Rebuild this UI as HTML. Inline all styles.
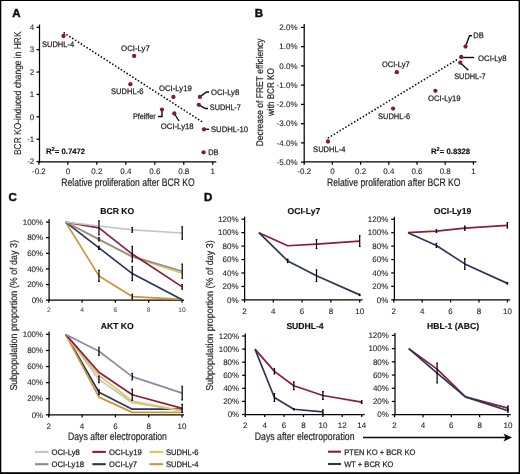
<!DOCTYPE html><html><head><meta charset="utf-8"><style>html,body{margin:0;padding:0;background:#fff;}svg{display:block;text-rendering:geometricPrecision;font-family:"Liberation Sans",sans-serif;}</style></head><body>
<svg width="520" height="474" viewBox="0 0 520 474">
<defs><filter id="b" x="-5%" y="-5%" width="110%" height="110%"><feGaussianBlur stdDeviation="0.35"/></filter></defs>
<rect x="0" y="0" width="520" height="474" fill="#fff"/>
<g filter="url(#b)">
<text x="12.3" y="17.2" font-size="11.5" text-anchor="start" font-weight="bold" fill="#111" stroke="#111" stroke-width="0.45" >A</text>
<line x1="39.5" y1="24.5" x2="39.5" y2="162.5" stroke="#000" stroke-width="1.25" />
<line x1="36.5" y1="27.3" x2="39.5" y2="27.3" stroke="#000" stroke-width="1.25" />
<text x="34.3" y="30.0" font-size="8.0" text-anchor="end" font-weight="normal" fill="#262626" stroke="#262626" stroke-width="0.1" >4</text>
<line x1="36.5" y1="49.68" x2="39.5" y2="49.68" stroke="#000" stroke-width="1.25" />
<text x="34.3" y="52.38" font-size="8.0" text-anchor="end" font-weight="normal" fill="#262626" stroke="#262626" stroke-width="0.1" >3</text>
<line x1="36.5" y1="72.06" x2="39.5" y2="72.06" stroke="#000" stroke-width="1.25" />
<text x="34.3" y="74.76" font-size="8.0" text-anchor="end" font-weight="normal" fill="#262626" stroke="#262626" stroke-width="0.1" >2</text>
<line x1="36.5" y1="94.44" x2="39.5" y2="94.44" stroke="#000" stroke-width="1.25" />
<text x="34.3" y="97.14" font-size="8.0" text-anchor="end" font-weight="normal" fill="#262626" stroke="#262626" stroke-width="0.1" >1</text>
<line x1="36.5" y1="116.82" x2="39.5" y2="116.82" stroke="#000" stroke-width="1.25" />
<text x="34.3" y="119.52" font-size="8.0" text-anchor="end" font-weight="normal" fill="#262626" stroke="#262626" stroke-width="0.1" >0</text>
<line x1="36.5" y1="139.2" x2="39.5" y2="139.2" stroke="#000" stroke-width="1.25" />
<text x="34.3" y="141.89999999999998" font-size="8.0" text-anchor="end" font-weight="normal" fill="#262626" stroke="#262626" stroke-width="0.1" >-1</text>
<line x1="36.5" y1="161.58" x2="39.5" y2="161.58" stroke="#000" stroke-width="1.25" />
<text x="34.3" y="164.28" font-size="8.0" text-anchor="end" font-weight="normal" fill="#262626" stroke="#262626" stroke-width="0.1" >-2</text>
<line x1="38.9" y1="161.9" x2="216.3" y2="161.9" stroke="#000" stroke-width="1.25" />
<line x1="38.9" y1="161.9" x2="38.9" y2="164.7" stroke="#000" stroke-width="1.25" />
<text x="38.9" y="173.6" font-size="8.0" text-anchor="middle" font-weight="normal" fill="#262626" stroke="#262626" stroke-width="0.1" >-0.2</text>
<line x1="67.87" y1="161.9" x2="67.87" y2="164.7" stroke="#000" stroke-width="1.25" />
<text x="67.87" y="173.6" font-size="8.0" text-anchor="middle" font-weight="normal" fill="#262626" stroke="#262626" stroke-width="0.1" >0</text>
<line x1="96.84" y1="161.9" x2="96.84" y2="164.7" stroke="#000" stroke-width="1.25" />
<text x="96.84" y="173.6" font-size="8.0" text-anchor="middle" font-weight="normal" fill="#262626" stroke="#262626" stroke-width="0.1" >0.2</text>
<line x1="125.81" y1="161.9" x2="125.81" y2="164.7" stroke="#000" stroke-width="1.25" />
<text x="125.81" y="173.6" font-size="8.0" text-anchor="middle" font-weight="normal" fill="#262626" stroke="#262626" stroke-width="0.1" >0.4</text>
<line x1="154.78" y1="161.9" x2="154.78" y2="164.7" stroke="#000" stroke-width="1.25" />
<text x="154.78" y="173.6" font-size="8.0" text-anchor="middle" font-weight="normal" fill="#262626" stroke="#262626" stroke-width="0.1" >0.6</text>
<line x1="183.75" y1="161.9" x2="183.75" y2="164.7" stroke="#000" stroke-width="1.25" />
<text x="183.75" y="173.6" font-size="8.0" text-anchor="middle" font-weight="normal" fill="#262626" stroke="#262626" stroke-width="0.1" >0.8</text>
<line x1="212.72" y1="161.9" x2="212.72" y2="164.7" stroke="#000" stroke-width="1.25" />
<text x="212.72" y="173.6" font-size="8.0" text-anchor="middle" font-weight="normal" fill="#262626" stroke="#262626" stroke-width="0.1" >1</text>
<text x="61.3" y="185.5" font-size="10.9" text-anchor="start" font-weight="normal" fill="#262626" stroke="#262626" stroke-width="0.2" textLength="133.5" lengthAdjust="spacingAndGlyphs" >Relative proliferation after BCR KO</text>
<g transform="translate(21.2,155.0) rotate(-90)">
<text x="0" y="0" font-size="10.0" text-anchor="start" font-weight="normal" fill="#262626" stroke="#262626" stroke-width="0.15" textLength="123.5" lengthAdjust="spacingAndGlyphs" >BCR KO-induced change in HRK</text>
</g>
<line x1="64.2" y1="33.0" x2="202.8" y2="122.2" stroke="#111" stroke-width="1.75" stroke-dasharray="0.05 3.35" stroke-linecap="round"/>
<g fill="none" stroke="#111" stroke-width="1.4">
<polyline points="199.9,96.9 206.5,92 209,92"/>
<polyline points="198.8,104.8 205.5,108.5 208,108.5"/>
<polyline points="162,109.6 162,116.5 158,116.5"/>
<polyline points="174.3,113.5 179,121"/>
<polyline points="204,129.3 209,129.3"/>
</g>
<circle cx="63.5" cy="36" r="2.15" fill="#8a1536"/>
<circle cx="134.1" cy="56" r="2.15" fill="#8a1536"/>
<circle cx="130.4" cy="84.2" r="2.15" fill="#8a1536"/>
<circle cx="173.4" cy="97" r="2.15" fill="#8a1536"/>
<circle cx="199.9" cy="96.9" r="2.15" fill="#8a1536"/>
<circle cx="198.8" cy="104.8" r="2.15" fill="#8a1536"/>
<circle cx="162" cy="109.6" r="2.15" fill="#8a1536"/>
<circle cx="174.3" cy="113.5" r="2.15" fill="#8a1536"/>
<circle cx="204" cy="129.3" r="2.15" fill="#8a1536"/>
<circle cx="203.6" cy="152.3" r="2.15" fill="#8a1536"/>
<text x="41.9" y="46.5" font-size="8.0" text-anchor="start" font-weight="normal" fill="#262626" stroke="#262626" stroke-width="0.25" textLength="32.3" lengthAdjust="spacingAndGlyphs" >SUDHL-4</text>
<text x="121.1" y="51.4" font-size="8.0" text-anchor="start" font-weight="normal" fill="#262626" stroke="#262626" stroke-width="0.25" textLength="28.7" lengthAdjust="spacingAndGlyphs" >OCI-Ly7</text>
<text x="111" y="94.39999999999999" font-size="8.0" text-anchor="start" font-weight="normal" fill="#262626" stroke="#262626" stroke-width="0.25" textLength="32.5" lengthAdjust="spacingAndGlyphs" >SUDHL-6</text>
<text x="159.1" y="91.0" font-size="8.0" text-anchor="start" font-weight="normal" fill="#262626" stroke="#262626" stroke-width="0.25" textLength="32.6" lengthAdjust="spacingAndGlyphs" >OCI-Ly19</text>
<text x="211" y="94.69999999999999" font-size="8.0" text-anchor="start" font-weight="normal" fill="#262626" stroke="#262626" stroke-width="0.25" textLength="28.2" lengthAdjust="spacingAndGlyphs" >OCI-Ly8</text>
<text x="209.8" y="110.39999999999999" font-size="8.0" text-anchor="start" font-weight="normal" fill="#262626" stroke="#262626" stroke-width="0.25" textLength="31.1" lengthAdjust="spacingAndGlyphs" >SUDHL-7</text>
<text x="132.9" y="118.89999999999999" font-size="8.0" text-anchor="start" font-weight="normal" fill="#262626" stroke="#262626" stroke-width="0.25" textLength="22.8" lengthAdjust="spacingAndGlyphs" >Pfeiffer</text>
<text x="160.8" y="129.1" font-size="8.0" text-anchor="start" font-weight="normal" fill="#262626" stroke="#262626" stroke-width="0.25" textLength="32.8" lengthAdjust="spacingAndGlyphs" >OCI-Ly18</text>
<text x="211" y="131.5" font-size="8.0" text-anchor="start" font-weight="normal" fill="#262626" stroke="#262626" stroke-width="0.25" textLength="37.1" lengthAdjust="spacingAndGlyphs" >SUDHL-10</text>
<text x="208.2" y="155.4" font-size="8.0" text-anchor="start" font-weight="normal" fill="#262626" stroke="#262626" stroke-width="0.25" textLength="10.4" lengthAdjust="spacingAndGlyphs" >DB</text>
<text x="46" y="154.0" font-size="7.75" text-anchor="start" font-weight="bold" fill="#111" stroke="#111" stroke-width="0.15" >R<tspan font-size="5.6" dy="-3.2">2</tspan><tspan dy="3.2">= 0.7472</tspan></text>
<text x="254.8" y="17.2" font-size="11.5" text-anchor="start" font-weight="bold" fill="#111" stroke="#111" stroke-width="0.45" >B</text>
<line x1="304.2" y1="24.0" x2="304.2" y2="162.5" stroke="#000" stroke-width="1.25" />
<line x1="301.0" y1="27.4" x2="304.2" y2="27.4" stroke="#000" stroke-width="1.25" />
<text x="297.5" y="30.099999999999998" font-size="8.0" text-anchor="end" font-weight="normal" fill="#262626" stroke="#262626" stroke-width="0.1" >2.0%</text>
<line x1="301.0" y1="46.65" x2="304.2" y2="46.65" stroke="#000" stroke-width="1.25" />
<text x="297.5" y="49.35" font-size="8.0" text-anchor="end" font-weight="normal" fill="#262626" stroke="#262626" stroke-width="0.1" >1.0%</text>
<line x1="301.0" y1="65.9" x2="304.2" y2="65.9" stroke="#000" stroke-width="1.25" />
<text x="297.5" y="68.60000000000001" font-size="8.0" text-anchor="end" font-weight="normal" fill="#262626" stroke="#262626" stroke-width="0.1" >0.0%</text>
<line x1="301.0" y1="85.15" x2="304.2" y2="85.15" stroke="#000" stroke-width="1.25" />
<text x="297.5" y="87.85000000000001" font-size="8.0" text-anchor="end" font-weight="normal" fill="#262626" stroke="#262626" stroke-width="0.1" >-1.0%</text>
<line x1="301.0" y1="104.4" x2="304.2" y2="104.4" stroke="#000" stroke-width="1.25" />
<text x="297.5" y="107.10000000000001" font-size="8.0" text-anchor="end" font-weight="normal" fill="#262626" stroke="#262626" stroke-width="0.1" >-2.0%</text>
<line x1="301.0" y1="123.65" x2="304.2" y2="123.65" stroke="#000" stroke-width="1.25" />
<text x="297.5" y="126.35000000000001" font-size="8.0" text-anchor="end" font-weight="normal" fill="#262626" stroke="#262626" stroke-width="0.1" >-3.0%</text>
<line x1="301.0" y1="142.9" x2="304.2" y2="142.9" stroke="#000" stroke-width="1.25" />
<text x="297.5" y="145.6" font-size="8.0" text-anchor="end" font-weight="normal" fill="#262626" stroke="#262626" stroke-width="0.1" >-4.0%</text>
<line x1="301.0" y1="162.15" x2="304.2" y2="162.15" stroke="#000" stroke-width="1.25" />
<text x="297.5" y="164.85" font-size="8.0" text-anchor="end" font-weight="normal" fill="#262626" stroke="#262626" stroke-width="0.1" >-5.0%</text>
<line x1="303.59999999999997" y1="161.9" x2="476.4" y2="161.9" stroke="#000" stroke-width="1.25" />
<line x1="304.2" y1="161.9" x2="304.2" y2="164.7" stroke="#000" stroke-width="1.25" />
<text x="304.2" y="173.6" font-size="8.0" text-anchor="middle" font-weight="normal" fill="#262626" stroke="#262626" stroke-width="0.1" >-0.2</text>
<line x1="332.4" y1="161.9" x2="332.4" y2="164.7" stroke="#000" stroke-width="1.25" />
<text x="332.4" y="173.6" font-size="8.0" text-anchor="middle" font-weight="normal" fill="#262626" stroke="#262626" stroke-width="0.1" >0</text>
<line x1="360.59999999999997" y1="161.9" x2="360.59999999999997" y2="164.7" stroke="#000" stroke-width="1.25" />
<text x="360.59999999999997" y="173.6" font-size="8.0" text-anchor="middle" font-weight="normal" fill="#262626" stroke="#262626" stroke-width="0.1" >0.2</text>
<line x1="388.79999999999995" y1="161.9" x2="388.79999999999995" y2="164.7" stroke="#000" stroke-width="1.25" />
<text x="388.79999999999995" y="173.6" font-size="8.0" text-anchor="middle" font-weight="normal" fill="#262626" stroke="#262626" stroke-width="0.1" >0.4</text>
<line x1="417.0" y1="161.9" x2="417.0" y2="164.7" stroke="#000" stroke-width="1.25" />
<text x="417.0" y="173.6" font-size="8.0" text-anchor="middle" font-weight="normal" fill="#262626" stroke="#262626" stroke-width="0.1" >0.6</text>
<line x1="445.2" y1="161.9" x2="445.2" y2="164.7" stroke="#000" stroke-width="1.25" />
<text x="445.2" y="173.6" font-size="8.0" text-anchor="middle" font-weight="normal" fill="#262626" stroke="#262626" stroke-width="0.1" >0.8</text>
<line x1="473.4" y1="161.9" x2="473.4" y2="164.7" stroke="#000" stroke-width="1.25" />
<text x="473.4" y="173.6" font-size="8.0" text-anchor="middle" font-weight="normal" fill="#262626" stroke="#262626" stroke-width="0.1" >1</text>
<text x="327.0" y="185.5" font-size="10.9" text-anchor="start" font-weight="normal" fill="#262626" stroke="#262626" stroke-width="0.2" textLength="133.5" lengthAdjust="spacingAndGlyphs" >Relative proliferation after BCR KO</text>
<g transform="translate(263.3,146.3) rotate(-90)">
<text x="0" y="0" font-size="9.7" text-anchor="start" font-weight="normal" fill="#262626" stroke="#262626" stroke-width="0.2" textLength="107.7" lengthAdjust="spacingAndGlyphs" >Decrease of FRET efficiency</text>
</g>
<g transform="translate(273.8,116.0) rotate(-90)">
<text x="0" y="0" font-size="9.7" text-anchor="start" font-weight="normal" fill="#262626" stroke="#262626" stroke-width="0.2" textLength="47.8" lengthAdjust="spacingAndGlyphs" >with BCR KO</text>
</g>
<line x1="328.5" y1="137.7" x2="458.6" y2="58.7" stroke="#111" stroke-width="1.75" stroke-dasharray="0.05 3.35" stroke-linecap="round"/>
<g fill="none" stroke="#111" stroke-width="1.4">
<polyline points="465.5,46.6 469.5,35.7 472,35.7"/>
<polyline points="461.2,57.5 474.1,57.5"/>
<polyline points="460.3,62.7 468.4,70.3"/>
</g>
<circle cx="328" cy="141.5" r="2.15" fill="#8a1536"/>
<circle cx="393.1" cy="108.6" r="2.15" fill="#8a1536"/>
<circle cx="396.8" cy="72.2" r="2.15" fill="#8a1536"/>
<circle cx="435.4" cy="90.8" r="2.15" fill="#8a1536"/>
<circle cx="465.5" cy="46.6" r="2.15" fill="#8a1536"/>
<circle cx="461.2" cy="57" r="2.15" fill="#8a1536"/>
<circle cx="460.3" cy="62.7" r="2.15" fill="#8a1536"/>
<text x="313.1" y="151.79999999999998" font-size="8.0" text-anchor="start" font-weight="normal" fill="#262626" stroke="#262626" stroke-width="0.25" textLength="32.3" lengthAdjust="spacingAndGlyphs" >SUDHL-4</text>
<text x="378" y="118.69999999999999" font-size="8.0" text-anchor="start" font-weight="normal" fill="#262626" stroke="#262626" stroke-width="0.25" textLength="32.1" lengthAdjust="spacingAndGlyphs" >SUDHL-6</text>
<text x="382" y="66.8" font-size="8.0" text-anchor="start" font-weight="normal" fill="#262626" stroke="#262626" stroke-width="0.25" textLength="27.7" lengthAdjust="spacingAndGlyphs" >OCI-Ly7</text>
<text x="428" y="100.5" font-size="8.0" text-anchor="start" font-weight="normal" fill="#262626" stroke="#262626" stroke-width="0.25" textLength="32.6" lengthAdjust="spacingAndGlyphs" >OCI-Ly19</text>
<text x="473.3" y="37.5" font-size="8.0" text-anchor="start" font-weight="normal" fill="#262626" stroke="#262626" stroke-width="0.25" textLength="10.4" lengthAdjust="spacingAndGlyphs" >DB</text>
<text x="478.1" y="60.5" font-size="8.0" text-anchor="start" font-weight="normal" fill="#262626" stroke="#262626" stroke-width="0.25" textLength="28.4" lengthAdjust="spacingAndGlyphs" >OCI-Ly8</text>
<text x="454.2" y="78.69999999999999" font-size="8.0" text-anchor="start" font-weight="normal" fill="#262626" stroke="#262626" stroke-width="0.25" textLength="31.5" lengthAdjust="spacingAndGlyphs" >SUDHL-7</text>
<text x="431" y="154.0" font-size="7.75" text-anchor="start" font-weight="bold" fill="#111" stroke="#111" stroke-width="0.15" >R<tspan font-size="5.6" dy="-3.2">2</tspan><tspan dy="3.2">= 0.8328</tspan></text>
<text x="8.6" y="201.3" font-size="11.5" text-anchor="start" font-weight="bold" fill="#111" stroke="#111" stroke-width="0.45" >C</text>
<g transform="translate(17.2,390.6) rotate(-90)">
<text x="0" y="0" font-size="10.0" text-anchor="start" font-weight="normal" fill="#262626" stroke="#262626" stroke-width="0.15" textLength="150.5" lengthAdjust="spacingAndGlyphs" >Subpopulation proportion (% of day 3)</text>
</g>
<line x1="49.1" y1="219.1" x2="49.1" y2="300.70000000000005" stroke="#000" stroke-width="1.25" />
<line x1="45.9" y1="300.1" x2="49.1" y2="300.1" stroke="#000" stroke-width="1.25" />
<text x="43.2" y="302.8" font-size="8.0" text-anchor="end" font-weight="normal" fill="#262626" stroke="#262626" stroke-width="0.1" >0%</text>
<line x1="45.9" y1="284.5" x2="49.1" y2="284.5" stroke="#000" stroke-width="1.25" />
<text x="43.2" y="287.2" font-size="8.0" text-anchor="end" font-weight="normal" fill="#262626" stroke="#262626" stroke-width="0.1" >20%</text>
<line x1="45.9" y1="268.90000000000003" x2="49.1" y2="268.90000000000003" stroke="#000" stroke-width="1.25" />
<text x="43.2" y="271.6" font-size="8.0" text-anchor="end" font-weight="normal" fill="#262626" stroke="#262626" stroke-width="0.1" >40%</text>
<line x1="45.9" y1="253.3" x2="49.1" y2="253.3" stroke="#000" stroke-width="1.25" />
<text x="43.2" y="256.0" font-size="8.0" text-anchor="end" font-weight="normal" fill="#262626" stroke="#262626" stroke-width="0.1" >60%</text>
<line x1="45.9" y1="237.7" x2="49.1" y2="237.7" stroke="#000" stroke-width="1.25" />
<text x="43.2" y="240.39999999999998" font-size="8.0" text-anchor="end" font-weight="normal" fill="#262626" stroke="#262626" stroke-width="0.1" >80%</text>
<line x1="45.9" y1="222.1" x2="49.1" y2="222.1" stroke="#000" stroke-width="1.25" />
<text x="43.2" y="224.79999999999998" font-size="8.0" text-anchor="end" font-weight="normal" fill="#262626" stroke="#262626" stroke-width="0.1" >100%</text>
<line x1="48.5" y1="300.1" x2="184.0" y2="300.1" stroke="#000" stroke-width="1.25" />
<line x1="48.8" y1="300.1" x2="48.8" y2="302.70000000000005" stroke="#000" stroke-width="1.25" />
<text x="48.8" y="311.70000000000005" font-size="6.6" text-anchor="middle" font-weight="normal" fill="#555" stroke="#555" stroke-width="0.1" >2</text>
<line x1="82.1" y1="300.1" x2="82.1" y2="302.70000000000005" stroke="#000" stroke-width="1.25" />
<text x="82.1" y="311.70000000000005" font-size="6.6" text-anchor="middle" font-weight="normal" fill="#555" stroke="#555" stroke-width="0.1" >4</text>
<line x1="115.39999999999999" y1="300.1" x2="115.39999999999999" y2="302.70000000000005" stroke="#000" stroke-width="1.25" />
<text x="115.39999999999999" y="311.70000000000005" font-size="6.6" text-anchor="middle" font-weight="normal" fill="#555" stroke="#555" stroke-width="0.1" >6</text>
<line x1="148.7" y1="300.1" x2="148.7" y2="302.70000000000005" stroke="#000" stroke-width="1.25" />
<text x="148.7" y="311.70000000000005" font-size="6.6" text-anchor="middle" font-weight="normal" fill="#555" stroke="#555" stroke-width="0.1" >8</text>
<line x1="182.0" y1="300.1" x2="182.0" y2="302.70000000000005" stroke="#000" stroke-width="1.25" />
<text x="182.0" y="311.70000000000005" font-size="6.6" text-anchor="middle" font-weight="normal" fill="#555" stroke="#555" stroke-width="0.1" >10</text>
<text x="117.3" y="214.3" font-size="8.6" text-anchor="middle" font-weight="bold" fill="#111" stroke="#111" stroke-width="0.15" >BCR KO</text>
<polyline points="65.65,222.10 98.95,239.81 132.25,256.97 182.20,273.19" fill="none" stroke="#e2c255" stroke-width="1.7" stroke-linejoin="round"/>
<polyline points="65.65,222.10 98.95,275.92 132.25,296.59 182.20,299.32" fill="none" stroke="#cf9434" stroke-width="1.7" stroke-linejoin="round"/>
<polyline points="65.65,222.10 98.95,247.84 132.25,273.58 182.20,299.71" fill="none" stroke="#2c3659" stroke-width="1.7" stroke-linejoin="round"/>
<polyline points="65.65,222.10 98.95,239.26 132.25,256.42 182.20,271.24" fill="none" stroke="#978b8f" stroke-width="1.7" stroke-linejoin="round"/>
<polyline points="65.65,222.10 98.95,227.95 132.25,254.08 182.20,286.84" fill="none" stroke="#8e1b3d" stroke-width="1.7" stroke-linejoin="round"/>
<polyline points="65.65,222.10 98.95,226.00 132.25,229.90 182.20,233.02" fill="none" stroke="#c4c4c4" stroke-width="1.7" stroke-linejoin="round"/>
<line x1="98.94999999999999" y1="270.46000000000004" x2="98.94999999999999" y2="281.38" stroke="#000" stroke-width="1.2" />
<line x1="98.14999999999999" y1="270.46000000000004" x2="99.74999999999999" y2="270.46000000000004" stroke="#000" stroke-width="1.2" />
<line x1="98.14999999999999" y1="281.38" x2="99.74999999999999" y2="281.38" stroke="#000" stroke-width="1.2" />
<line x1="132.25" y1="294.25" x2="132.25" y2="298.93" stroke="#000" stroke-width="1.2" />
<line x1="131.45" y1="294.25" x2="133.05" y2="294.25" stroke="#000" stroke-width="1.2" />
<line x1="131.45" y1="298.93" x2="133.05" y2="298.93" stroke="#000" stroke-width="1.2" />
<line x1="98.94999999999999" y1="246.28" x2="98.94999999999999" y2="249.4" stroke="#000" stroke-width="1.2" />
<line x1="98.14999999999999" y1="246.28" x2="99.74999999999999" y2="246.28" stroke="#000" stroke-width="1.2" />
<line x1="98.14999999999999" y1="249.4" x2="99.74999999999999" y2="249.4" stroke="#000" stroke-width="1.2" />
<line x1="132.25" y1="266.56" x2="132.25" y2="280.6" stroke="#000" stroke-width="1.2" />
<line x1="131.45" y1="266.56" x2="133.05" y2="266.56" stroke="#000" stroke-width="1.2" />
<line x1="131.45" y1="280.6" x2="133.05" y2="280.6" stroke="#000" stroke-width="1.2" />
<line x1="98.94999999999999" y1="237.7" x2="98.94999999999999" y2="240.82" stroke="#000" stroke-width="1.2" />
<line x1="98.14999999999999" y1="237.7" x2="99.74999999999999" y2="237.7" stroke="#000" stroke-width="1.2" />
<line x1="98.14999999999999" y1="240.82" x2="99.74999999999999" y2="240.82" stroke="#000" stroke-width="1.2" />
<line x1="182.2" y1="264.22" x2="182.2" y2="278.26" stroke="#000" stroke-width="1.2" />
<line x1="181.39999999999998" y1="264.22" x2="183.0" y2="264.22" stroke="#000" stroke-width="1.2" />
<line x1="181.39999999999998" y1="278.26" x2="183.0" y2="278.26" stroke="#000" stroke-width="1.2" />
<line x1="98.94999999999999" y1="220.93" x2="98.94999999999999" y2="234.97" stroke="#000" stroke-width="1.2" />
<line x1="98.14999999999999" y1="220.93" x2="99.74999999999999" y2="220.93" stroke="#000" stroke-width="1.2" />
<line x1="98.14999999999999" y1="234.97" x2="99.74999999999999" y2="234.97" stroke="#000" stroke-width="1.2" />
<line x1="132.25" y1="246.28" x2="132.25" y2="261.88" stroke="#000" stroke-width="1.2" />
<line x1="131.45" y1="246.28" x2="133.05" y2="246.28" stroke="#000" stroke-width="1.2" />
<line x1="131.45" y1="261.88" x2="133.05" y2="261.88" stroke="#000" stroke-width="1.2" />
<line x1="182.2" y1="284.5" x2="182.2" y2="289.18" stroke="#000" stroke-width="1.2" />
<line x1="181.39999999999998" y1="284.5" x2="183.0" y2="284.5" stroke="#000" stroke-width="1.2" />
<line x1="181.39999999999998" y1="289.18" x2="183.0" y2="289.18" stroke="#000" stroke-width="1.2" />
<line x1="132.25" y1="227.56" x2="132.25" y2="232.24" stroke="#000" stroke-width="1.2" />
<line x1="131.45" y1="227.56" x2="133.05" y2="227.56" stroke="#000" stroke-width="1.2" />
<line x1="131.45" y1="232.24" x2="133.05" y2="232.24" stroke="#000" stroke-width="1.2" />
<line x1="182.2" y1="226.78" x2="182.2" y2="239.26" stroke="#000" stroke-width="1.2" />
<line x1="181.39999999999998" y1="226.78" x2="183.0" y2="226.78" stroke="#000" stroke-width="1.2" />
<line x1="181.39999999999998" y1="239.26" x2="183.0" y2="239.26" stroke="#000" stroke-width="1.2" />
<line x1="49.1" y1="331.4" x2="49.1" y2="415.40000000000003" stroke="#000" stroke-width="1.25" />
<line x1="45.9" y1="414.8" x2="49.1" y2="414.8" stroke="#000" stroke-width="1.25" />
<text x="43.2" y="417.5" font-size="8.0" text-anchor="end" font-weight="normal" fill="#262626" stroke="#262626" stroke-width="0.1" >0%</text>
<line x1="45.9" y1="398.72" x2="49.1" y2="398.72" stroke="#000" stroke-width="1.25" />
<text x="43.2" y="401.42" font-size="8.0" text-anchor="end" font-weight="normal" fill="#262626" stroke="#262626" stroke-width="0.1" >20%</text>
<line x1="45.9" y1="382.64" x2="49.1" y2="382.64" stroke="#000" stroke-width="1.25" />
<text x="43.2" y="385.34" font-size="8.0" text-anchor="end" font-weight="normal" fill="#262626" stroke="#262626" stroke-width="0.1" >40%</text>
<line x1="45.9" y1="366.56" x2="49.1" y2="366.56" stroke="#000" stroke-width="1.25" />
<text x="43.2" y="369.26" font-size="8.0" text-anchor="end" font-weight="normal" fill="#262626" stroke="#262626" stroke-width="0.1" >60%</text>
<line x1="45.9" y1="350.48" x2="49.1" y2="350.48" stroke="#000" stroke-width="1.25" />
<text x="43.2" y="353.18" font-size="8.0" text-anchor="end" font-weight="normal" fill="#262626" stroke="#262626" stroke-width="0.1" >80%</text>
<line x1="45.9" y1="334.4" x2="49.1" y2="334.4" stroke="#000" stroke-width="1.25" />
<text x="43.2" y="337.09999999999997" font-size="8.0" text-anchor="end" font-weight="normal" fill="#262626" stroke="#262626" stroke-width="0.1" >100%</text>
<line x1="48.5" y1="414.8" x2="184.0" y2="414.8" stroke="#000" stroke-width="1.25" />
<line x1="48.8" y1="414.8" x2="48.8" y2="417.40000000000003" stroke="#000" stroke-width="1.25" />
<text x="48.8" y="428.5" font-size="8.0" text-anchor="middle" font-weight="normal" fill="#262626" stroke="#262626" stroke-width="0.1" >2</text>
<line x1="82.1" y1="414.8" x2="82.1" y2="417.40000000000003" stroke="#000" stroke-width="1.25" />
<text x="82.1" y="428.5" font-size="8.0" text-anchor="middle" font-weight="normal" fill="#262626" stroke="#262626" stroke-width="0.1" >4</text>
<line x1="115.39999999999999" y1="414.8" x2="115.39999999999999" y2="417.40000000000003" stroke="#000" stroke-width="1.25" />
<text x="115.39999999999999" y="428.5" font-size="8.0" text-anchor="middle" font-weight="normal" fill="#262626" stroke="#262626" stroke-width="0.1" >6</text>
<line x1="148.7" y1="414.8" x2="148.7" y2="417.40000000000003" stroke="#000" stroke-width="1.25" />
<text x="148.7" y="428.5" font-size="8.0" text-anchor="middle" font-weight="normal" fill="#262626" stroke="#262626" stroke-width="0.1" >8</text>
<line x1="182.0" y1="414.8" x2="182.0" y2="417.40000000000003" stroke="#000" stroke-width="1.25" />
<text x="182.0" y="428.5" font-size="8.0" text-anchor="middle" font-weight="normal" fill="#262626" stroke="#262626" stroke-width="0.1" >10</text>
<text x="117.3" y="328.9" font-size="8.6" text-anchor="middle" font-weight="bold" fill="#111" stroke="#111" stroke-width="0.15" >AKT KO</text>
<polyline points="65.65,334.40 98.95,392.29 132.25,409.17 182.20,409.17" fill="none" stroke="#2c3659" stroke-width="1.7" stroke-linejoin="round"/>
<polyline points="65.65,334.40 98.95,397.11 132.25,412.39 182.20,412.39" fill="none" stroke="#cf9434" stroke-width="1.7" stroke-linejoin="round"/>
<polyline points="65.65,334.40 98.95,379.42 132.25,402.74 182.20,410.78" fill="none" stroke="#c4c4c4" stroke-width="1.7" stroke-linejoin="round"/>
<polyline points="65.65,334.40 98.95,375.40 132.25,401.13 182.20,410.78" fill="none" stroke="#e2c255" stroke-width="1.7" stroke-linejoin="round"/>
<polyline points="65.65,334.40 98.95,372.19 132.25,394.70 182.20,408.37" fill="none" stroke="#8e1b3d" stroke-width="1.7" stroke-linejoin="round"/>
<polyline points="65.65,334.40 98.95,351.28 132.25,376.61 182.20,393.09" fill="none" stroke="#8d88a4" stroke-width="1.7" stroke-linejoin="round"/>
<line x1="98.94999999999999" y1="389.876" x2="98.94999999999999" y2="394.7" stroke="#000" stroke-width="1.2" />
<line x1="98.14999999999999" y1="389.876" x2="99.74999999999999" y2="389.876" stroke="#000" stroke-width="1.2" />
<line x1="98.14999999999999" y1="394.7" x2="99.74999999999999" y2="394.7" stroke="#000" stroke-width="1.2" />
<line x1="98.94999999999999" y1="376.20799999999997" x2="98.94999999999999" y2="382.64" stroke="#000" stroke-width="1.2" />
<line x1="98.14999999999999" y1="376.20799999999997" x2="99.74999999999999" y2="376.20799999999997" stroke="#000" stroke-width="1.2" />
<line x1="98.14999999999999" y1="382.64" x2="99.74999999999999" y2="382.64" stroke="#000" stroke-width="1.2" />
<line x1="132.25" y1="389.072" x2="132.25" y2="400.32800000000003" stroke="#000" stroke-width="1.2" />
<line x1="131.45" y1="389.072" x2="133.05" y2="389.072" stroke="#000" stroke-width="1.2" />
<line x1="131.45" y1="400.32800000000003" x2="133.05" y2="400.32800000000003" stroke="#000" stroke-width="1.2" />
<line x1="182.2" y1="404.348" x2="182.2" y2="412.38800000000003" stroke="#000" stroke-width="1.2" />
<line x1="181.39999999999998" y1="404.348" x2="183.0" y2="404.348" stroke="#000" stroke-width="1.2" />
<line x1="181.39999999999998" y1="412.38800000000003" x2="183.0" y2="412.38800000000003" stroke="#000" stroke-width="1.2" />
<line x1="98.94999999999999" y1="347.264" x2="98.94999999999999" y2="355.304" stroke="#000" stroke-width="1.2" />
<line x1="98.14999999999999" y1="347.264" x2="99.74999999999999" y2="347.264" stroke="#000" stroke-width="1.2" />
<line x1="98.14999999999999" y1="355.304" x2="99.74999999999999" y2="355.304" stroke="#000" stroke-width="1.2" />
<line x1="132.25" y1="373.394" x2="132.25" y2="379.826" stroke="#000" stroke-width="1.2" />
<line x1="131.45" y1="373.394" x2="133.05" y2="373.394" stroke="#000" stroke-width="1.2" />
<line x1="131.45" y1="379.826" x2="133.05" y2="379.826" stroke="#000" stroke-width="1.2" />
<line x1="182.2" y1="386.258" x2="182.2" y2="399.926" stroke="#000" stroke-width="1.2" />
<line x1="181.39999999999998" y1="386.258" x2="183.0" y2="386.258" stroke="#000" stroke-width="1.2" />
<line x1="181.39999999999998" y1="399.926" x2="183.0" y2="399.926" stroke="#000" stroke-width="1.2" />
<text x="68.1" y="440.0" font-size="10.9" text-anchor="start" font-weight="normal" fill="#262626" stroke="#262626" stroke-width="0.2" textLength="98.8" lengthAdjust="spacingAndGlyphs" >Days after electroporation</text>
<line x1="35" y1="451.9" x2="48.5" y2="451.9" stroke="#c4c4c4" stroke-width="2.1" />
<text x="51.5" y="454.7" font-size="8.0" text-anchor="start" font-weight="normal" fill="#262626" stroke="#262626" stroke-width="0.25" textLength="28.3" lengthAdjust="spacingAndGlyphs" >OCI-Ly8</text>
<line x1="92.3" y1="451.9" x2="105.8" y2="451.9" stroke="#8e1b3d" stroke-width="2.1" />
<text x="109.1" y="454.7" font-size="8.0" text-anchor="start" font-weight="normal" fill="#262626" stroke="#262626" stroke-width="0.25" textLength="32.7" lengthAdjust="spacingAndGlyphs" >OCI-Ly19</text>
<line x1="149.5" y1="451.9" x2="163.0" y2="451.9" stroke="#e2c255" stroke-width="2.1" />
<text x="166" y="454.7" font-size="8.0" text-anchor="start" font-weight="normal" fill="#262626" stroke="#262626" stroke-width="0.25" textLength="32.6" lengthAdjust="spacingAndGlyphs" >SUDHL-6</text>
<line x1="35" y1="464.2" x2="48.5" y2="464.2" stroke="#8d88a4" stroke-width="2.1" />
<text x="51.5" y="467.0" font-size="8.0" text-anchor="start" font-weight="normal" fill="#262626" stroke="#262626" stroke-width="0.25" textLength="32.4" lengthAdjust="spacingAndGlyphs" >OCI-Ly18</text>
<line x1="92.3" y1="464.2" x2="105.8" y2="464.2" stroke="#2c3659" stroke-width="2.1" />
<text x="109.1" y="467.0" font-size="8.0" text-anchor="start" font-weight="normal" fill="#262626" stroke="#262626" stroke-width="0.25" textLength="27.9" lengthAdjust="spacingAndGlyphs" >OCI-Ly7</text>
<line x1="149.5" y1="464.2" x2="163.0" y2="464.2" stroke="#cf9434" stroke-width="2.1" />
<text x="166" y="467.0" font-size="8.0" text-anchor="start" font-weight="normal" fill="#262626" stroke="#262626" stroke-width="0.25" textLength="32.6" lengthAdjust="spacingAndGlyphs" >SUDHL-4</text>
<text x="204.1" y="200.8" font-size="11.5" text-anchor="start" font-weight="bold" fill="#111" stroke="#111" stroke-width="0.45" >D</text>
<g transform="translate(212.6,390.8) rotate(-90)">
<text x="0" y="0" font-size="10.0" text-anchor="start" font-weight="normal" fill="#262626" stroke="#262626" stroke-width="0.15" textLength="150.5" lengthAdjust="spacingAndGlyphs" >Subpopulation proportion (% of day 3)</text>
</g>
<line x1="244.6" y1="216.7" x2="244.6" y2="300.5" stroke="#000" stroke-width="1.25" />
<line x1="241.4" y1="299.9" x2="244.6" y2="299.9" stroke="#000" stroke-width="1.25" />
<text x="238.5" y="302.59999999999997" font-size="8.0" text-anchor="end" font-weight="normal" fill="#262626" stroke="#262626" stroke-width="0.1" >0%</text>
<line x1="241.4" y1="286.45" x2="244.6" y2="286.45" stroke="#000" stroke-width="1.25" />
<text x="238.5" y="289.15" font-size="8.0" text-anchor="end" font-weight="normal" fill="#262626" stroke="#262626" stroke-width="0.1" >20%</text>
<line x1="241.4" y1="273.0" x2="244.6" y2="273.0" stroke="#000" stroke-width="1.25" />
<text x="238.5" y="275.7" font-size="8.0" text-anchor="end" font-weight="normal" fill="#262626" stroke="#262626" stroke-width="0.1" >40%</text>
<line x1="241.4" y1="259.54999999999995" x2="244.6" y2="259.54999999999995" stroke="#000" stroke-width="1.25" />
<text x="238.5" y="262.24999999999994" font-size="8.0" text-anchor="end" font-weight="normal" fill="#262626" stroke="#262626" stroke-width="0.1" >60%</text>
<line x1="241.4" y1="246.1" x2="244.6" y2="246.1" stroke="#000" stroke-width="1.25" />
<text x="238.5" y="248.79999999999998" font-size="8.0" text-anchor="end" font-weight="normal" fill="#262626" stroke="#262626" stroke-width="0.1" >80%</text>
<line x1="241.4" y1="232.64999999999998" x2="244.6" y2="232.64999999999998" stroke="#000" stroke-width="1.25" />
<text x="238.5" y="235.34999999999997" font-size="8.0" text-anchor="end" font-weight="normal" fill="#262626" stroke="#262626" stroke-width="0.1" >100%</text>
<line x1="241.4" y1="219.2" x2="244.6" y2="219.2" stroke="#000" stroke-width="1.25" />
<text x="238.5" y="221.89999999999998" font-size="8.0" text-anchor="end" font-weight="normal" fill="#262626" stroke="#262626" stroke-width="0.1" >120%</text>
<line x1="244.0" y1="299.9" x2="362.5" y2="299.9" stroke="#000" stroke-width="1.25" />
<line x1="244.5" y1="299.9" x2="244.5" y2="302.5" stroke="#000" stroke-width="1.25" />
<text x="244.5" y="313.59999999999997" font-size="8.0" text-anchor="middle" font-weight="normal" fill="#262626" stroke="#262626" stroke-width="0.1" >2</text>
<line x1="273.3" y1="299.9" x2="273.3" y2="302.5" stroke="#000" stroke-width="1.25" />
<text x="273.3" y="313.59999999999997" font-size="8.0" text-anchor="middle" font-weight="normal" fill="#262626" stroke="#262626" stroke-width="0.1" >4</text>
<line x1="302.1" y1="299.9" x2="302.1" y2="302.5" stroke="#000" stroke-width="1.25" />
<text x="302.1" y="313.59999999999997" font-size="8.0" text-anchor="middle" font-weight="normal" fill="#262626" stroke="#262626" stroke-width="0.1" >6</text>
<line x1="330.9" y1="299.9" x2="330.9" y2="302.5" stroke="#000" stroke-width="1.25" />
<text x="330.9" y="313.59999999999997" font-size="8.0" text-anchor="middle" font-weight="normal" fill="#262626" stroke="#262626" stroke-width="0.1" >8</text>
<line x1="359.7" y1="299.9" x2="359.7" y2="302.5" stroke="#000" stroke-width="1.25" />
<text x="359.7" y="313.59999999999997" font-size="8.0" text-anchor="middle" font-weight="normal" fill="#262626" stroke="#262626" stroke-width="0.1" >10</text>
<text x="303.9" y="213.9" font-size="8.6" text-anchor="middle" font-weight="bold" fill="#111" stroke="#111" stroke-width="0.15" >OCI-Ly7</text>
<polyline points="258.90,232.65 287.70,245.76 316.50,244.08 359.70,241.06" fill="none" stroke="#8e1b3d" stroke-width="1.7" stroke-linejoin="round"/>
<polyline points="258.90,232.65 287.70,260.89 316.50,275.69 359.70,294.86" fill="none" stroke="#2c3659" stroke-width="1.7" stroke-linejoin="round"/>
<line x1="316.5" y1="239.644" x2="316.5" y2="248.521" stroke="#000" stroke-width="1.2" />
<line x1="315.7" y1="239.644" x2="317.3" y2="239.644" stroke="#000" stroke-width="1.2" />
<line x1="315.7" y1="248.521" x2="317.3" y2="248.521" stroke="#000" stroke-width="1.2" />
<line x1="359.7" y1="235.67624999999998" x2="359.7" y2="246.43624999999997" stroke="#000" stroke-width="1.2" />
<line x1="358.9" y1="235.67624999999998" x2="360.5" y2="235.67624999999998" stroke="#000" stroke-width="1.2" />
<line x1="358.9" y1="246.43624999999997" x2="360.5" y2="246.43624999999997" stroke="#000" stroke-width="1.2" />
<line x1="287.7" y1="259.21375" x2="287.7" y2="262.57624999999996" stroke="#000" stroke-width="1.2" />
<line x1="286.9" y1="259.21375" x2="288.5" y2="259.21375" stroke="#000" stroke-width="1.2" />
<line x1="286.9" y1="262.57624999999996" x2="288.5" y2="262.57624999999996" stroke="#000" stroke-width="1.2" />
<line x1="316.5" y1="269.83925" x2="316.5" y2="281.54075" stroke="#000" stroke-width="1.2" />
<line x1="315.7" y1="269.83925" x2="317.3" y2="269.83925" stroke="#000" stroke-width="1.2" />
<line x1="315.7" y1="281.54075" x2="317.3" y2="281.54075" stroke="#000" stroke-width="1.2" />
<line x1="359.7" y1="294.18375" x2="359.7" y2="295.52875" stroke="#000" stroke-width="1.2" />
<line x1="358.9" y1="294.18375" x2="360.5" y2="294.18375" stroke="#000" stroke-width="1.2" />
<line x1="358.9" y1="295.52875" x2="360.5" y2="295.52875" stroke="#000" stroke-width="1.2" />
<line x1="394.4" y1="216.8" x2="394.4" y2="300.40000000000003" stroke="#000" stroke-width="1.25" />
<line x1="391.2" y1="299.8" x2="394.4" y2="299.8" stroke="#000" stroke-width="1.25" />
<text x="388.29999999999995" y="302.5" font-size="8.0" text-anchor="end" font-weight="normal" fill="#262626" stroke="#262626" stroke-width="0.1" >0%</text>
<line x1="391.2" y1="286.3833333333333" x2="394.4" y2="286.3833333333333" stroke="#000" stroke-width="1.25" />
<text x="388.29999999999995" y="289.0833333333333" font-size="8.0" text-anchor="end" font-weight="normal" fill="#262626" stroke="#262626" stroke-width="0.1" >20%</text>
<line x1="391.2" y1="272.9666666666667" x2="394.4" y2="272.9666666666667" stroke="#000" stroke-width="1.25" />
<text x="388.29999999999995" y="275.6666666666667" font-size="8.0" text-anchor="end" font-weight="normal" fill="#262626" stroke="#262626" stroke-width="0.1" >40%</text>
<line x1="391.2" y1="259.55" x2="394.4" y2="259.55" stroke="#000" stroke-width="1.25" />
<text x="388.29999999999995" y="262.25" font-size="8.0" text-anchor="end" font-weight="normal" fill="#262626" stroke="#262626" stroke-width="0.1" >60%</text>
<line x1="391.2" y1="246.13333333333335" x2="394.4" y2="246.13333333333335" stroke="#000" stroke-width="1.25" />
<text x="388.29999999999995" y="248.83333333333334" font-size="8.0" text-anchor="end" font-weight="normal" fill="#262626" stroke="#262626" stroke-width="0.1" >80%</text>
<line x1="391.2" y1="232.7166666666667" x2="394.4" y2="232.7166666666667" stroke="#000" stroke-width="1.25" />
<text x="388.29999999999995" y="235.41666666666669" font-size="8.0" text-anchor="end" font-weight="normal" fill="#262626" stroke="#262626" stroke-width="0.1" >100%</text>
<line x1="391.2" y1="219.3" x2="394.4" y2="219.3" stroke="#000" stroke-width="1.25" />
<text x="388.29999999999995" y="222.0" font-size="8.0" text-anchor="end" font-weight="normal" fill="#262626" stroke="#262626" stroke-width="0.1" >120%</text>
<line x1="393.79999999999995" y1="299.8" x2="510.2" y2="299.8" stroke="#000" stroke-width="1.25" />
<line x1="393.8" y1="299.8" x2="393.8" y2="302.40000000000003" stroke="#000" stroke-width="1.25" />
<text x="393.8" y="313.5" font-size="8.0" text-anchor="middle" font-weight="normal" fill="#262626" stroke="#262626" stroke-width="0.1" >2</text>
<line x1="422.2" y1="299.8" x2="422.2" y2="302.40000000000003" stroke="#000" stroke-width="1.25" />
<text x="422.2" y="313.5" font-size="8.0" text-anchor="middle" font-weight="normal" fill="#262626" stroke="#262626" stroke-width="0.1" >4</text>
<line x1="450.6" y1="299.8" x2="450.6" y2="302.40000000000003" stroke="#000" stroke-width="1.25" />
<text x="450.6" y="313.5" font-size="8.0" text-anchor="middle" font-weight="normal" fill="#262626" stroke="#262626" stroke-width="0.1" >6</text>
<line x1="479.0" y1="299.8" x2="479.0" y2="302.40000000000003" stroke="#000" stroke-width="1.25" />
<text x="479.0" y="313.5" font-size="8.0" text-anchor="middle" font-weight="normal" fill="#262626" stroke="#262626" stroke-width="0.1" >8</text>
<line x1="507.4" y1="299.8" x2="507.4" y2="302.40000000000003" stroke="#000" stroke-width="1.25" />
<text x="507.4" y="313.5" font-size="8.0" text-anchor="middle" font-weight="normal" fill="#262626" stroke="#262626" stroke-width="0.1" >10</text>
<text x="452.5" y="213.9" font-size="8.6" text-anchor="middle" font-weight="bold" fill="#111" stroke="#111" stroke-width="0.15" >OCI-Ly19</text>
<polyline points="408.00,232.72 436.40,231.04 464.80,228.16 507.40,225.34" fill="none" stroke="#8e1b3d" stroke-width="1.7" stroke-linejoin="round"/>
<polyline points="408.00,232.72 436.40,245.46 464.80,263.91 507.40,283.36" fill="none" stroke="#2c3659" stroke-width="1.7" stroke-linejoin="round"/>
<line x1="436.4" y1="229.69791666666669" x2="436.4" y2="232.38125000000002" stroke="#000" stroke-width="1.2" />
<line x1="435.59999999999997" y1="229.69791666666669" x2="437.2" y2="229.69791666666669" stroke="#000" stroke-width="1.2" />
<line x1="435.59999999999997" y1="232.38125000000002" x2="437.2" y2="232.38125000000002" stroke="#000" stroke-width="1.2" />
<line x1="464.8" y1="226.1425" x2="464.8" y2="230.16750000000002" stroke="#000" stroke-width="1.2" />
<line x1="464.0" y1="226.1425" x2="465.6" y2="226.1425" stroke="#000" stroke-width="1.2" />
<line x1="464.0" y1="230.16750000000002" x2="465.6" y2="230.16750000000002" stroke="#000" stroke-width="1.2" />
<line x1="507.4" y1="222.6541666666667" x2="507.4" y2="228.02083333333334" stroke="#000" stroke-width="1.2" />
<line x1="506.59999999999997" y1="222.6541666666667" x2="508.2" y2="222.6541666666667" stroke="#000" stroke-width="1.2" />
<line x1="506.59999999999997" y1="228.02083333333334" x2="508.2" y2="228.02083333333334" stroke="#000" stroke-width="1.2" />
<line x1="436.4" y1="243.45000000000002" x2="436.4" y2="247.47500000000002" stroke="#000" stroke-width="1.2" />
<line x1="435.59999999999997" y1="243.45000000000002" x2="437.2" y2="243.45000000000002" stroke="#000" stroke-width="1.2" />
<line x1="435.59999999999997" y1="247.47500000000002" x2="437.2" y2="247.47500000000002" stroke="#000" stroke-width="1.2" />
<line x1="464.8" y1="258.54375" x2="464.8" y2="269.27708333333334" stroke="#000" stroke-width="1.2" />
<line x1="464.0" y1="258.54375" x2="465.6" y2="258.54375" stroke="#000" stroke-width="1.2" />
<line x1="464.0" y1="269.27708333333334" x2="465.6" y2="269.27708333333334" stroke="#000" stroke-width="1.2" />
<line x1="507.4" y1="282.69375" x2="507.4" y2="284.03541666666666" stroke="#000" stroke-width="1.2" />
<line x1="506.59999999999997" y1="282.69375" x2="508.2" y2="282.69375" stroke="#000" stroke-width="1.2" />
<line x1="506.59999999999997" y1="284.03541666666666" x2="508.2" y2="284.03541666666666" stroke="#000" stroke-width="1.2" />
<line x1="245.3" y1="333.5" x2="245.3" y2="415.1" stroke="#000" stroke-width="1.25" />
<line x1="242.10000000000002" y1="414.5" x2="245.3" y2="414.5" stroke="#000" stroke-width="1.25" />
<text x="239.20000000000002" y="417.2" font-size="8.0" text-anchor="end" font-weight="normal" fill="#262626" stroke="#262626" stroke-width="0.1" >0%</text>
<line x1="242.10000000000002" y1="401.4166666666667" x2="245.3" y2="401.4166666666667" stroke="#000" stroke-width="1.25" />
<text x="239.20000000000002" y="404.1166666666667" font-size="8.0" text-anchor="end" font-weight="normal" fill="#262626" stroke="#262626" stroke-width="0.1" >20%</text>
<line x1="242.10000000000002" y1="388.3333333333333" x2="245.3" y2="388.3333333333333" stroke="#000" stroke-width="1.25" />
<text x="239.20000000000002" y="391.0333333333333" font-size="8.0" text-anchor="end" font-weight="normal" fill="#262626" stroke="#262626" stroke-width="0.1" >40%</text>
<line x1="242.10000000000002" y1="375.25" x2="245.3" y2="375.25" stroke="#000" stroke-width="1.25" />
<text x="239.20000000000002" y="377.95" font-size="8.0" text-anchor="end" font-weight="normal" fill="#262626" stroke="#262626" stroke-width="0.1" >60%</text>
<line x1="242.10000000000002" y1="362.1666666666667" x2="245.3" y2="362.1666666666667" stroke="#000" stroke-width="1.25" />
<text x="239.20000000000002" y="364.8666666666667" font-size="8.0" text-anchor="end" font-weight="normal" fill="#262626" stroke="#262626" stroke-width="0.1" >80%</text>
<line x1="242.10000000000002" y1="349.0833333333333" x2="245.3" y2="349.0833333333333" stroke="#000" stroke-width="1.25" />
<text x="239.20000000000002" y="351.7833333333333" font-size="8.0" text-anchor="end" font-weight="normal" fill="#262626" stroke="#262626" stroke-width="0.1" >100%</text>
<line x1="242.10000000000002" y1="336.0" x2="245.3" y2="336.0" stroke="#000" stroke-width="1.25" />
<text x="239.20000000000002" y="338.7" font-size="8.0" text-anchor="end" font-weight="normal" fill="#262626" stroke="#262626" stroke-width="0.1" >120%</text>
<line x1="244.70000000000002" y1="414.5" x2="364.5" y2="414.5" stroke="#000" stroke-width="1.25" />
<line x1="245.3" y1="414.5" x2="245.3" y2="417.1" stroke="#000" stroke-width="1.25" />
<text x="245.3" y="428.2" font-size="8.0" text-anchor="middle" font-weight="normal" fill="#262626" stroke="#262626" stroke-width="0.1" >2</text>
<line x1="264.7" y1="414.5" x2="264.7" y2="417.1" stroke="#000" stroke-width="1.25" />
<text x="264.7" y="428.2" font-size="8.0" text-anchor="middle" font-weight="normal" fill="#262626" stroke="#262626" stroke-width="0.1" >4</text>
<line x1="284.1" y1="414.5" x2="284.1" y2="417.1" stroke="#000" stroke-width="1.25" />
<text x="284.1" y="428.2" font-size="8.0" text-anchor="middle" font-weight="normal" fill="#262626" stroke="#262626" stroke-width="0.1" >6</text>
<line x1="303.5" y1="414.5" x2="303.5" y2="417.1" stroke="#000" stroke-width="1.25" />
<text x="303.5" y="428.2" font-size="8.0" text-anchor="middle" font-weight="normal" fill="#262626" stroke="#262626" stroke-width="0.1" >8</text>
<line x1="322.9" y1="414.5" x2="322.9" y2="417.1" stroke="#000" stroke-width="1.25" />
<text x="322.9" y="428.2" font-size="8.0" text-anchor="middle" font-weight="normal" fill="#262626" stroke="#262626" stroke-width="0.1" >10</text>
<line x1="342.3" y1="414.5" x2="342.3" y2="417.1" stroke="#000" stroke-width="1.25" />
<text x="342.3" y="428.2" font-size="8.0" text-anchor="middle" font-weight="normal" fill="#262626" stroke="#262626" stroke-width="0.1" >12</text>
<line x1="361.7" y1="414.5" x2="361.7" y2="417.1" stroke="#000" stroke-width="1.25" />
<text x="361.7" y="428.2" font-size="8.0" text-anchor="middle" font-weight="normal" fill="#262626" stroke="#262626" stroke-width="0.1" >14</text>
<text x="305.0" y="329.0" font-size="8.6" text-anchor="middle" font-weight="bold" fill="#111" stroke="#111" stroke-width="0.15" >SUDHL-4</text>
<polyline points="255.00,349.08 274.40,371.32 293.80,385.72 322.90,395.53 361.70,402.07" fill="none" stroke="#8e1b3d" stroke-width="1.7" stroke-linejoin="round"/>
<polyline points="255.00,349.08 274.40,397.49 293.80,409.27 322.90,411.88" fill="none" stroke="#2c3659" stroke-width="1.7" stroke-linejoin="round"/>
<line x1="274.40000000000003" y1="368.7083333333333" x2="274.40000000000003" y2="373.94166666666666" stroke="#000" stroke-width="1.2" />
<line x1="273.6" y1="368.7083333333333" x2="275.20000000000005" y2="368.7083333333333" stroke="#000" stroke-width="1.2" />
<line x1="273.6" y1="373.94166666666666" x2="275.20000000000005" y2="373.94166666666666" stroke="#000" stroke-width="1.2" />
<line x1="293.8" y1="381.7916666666667" x2="293.8" y2="389.64166666666665" stroke="#000" stroke-width="1.2" />
<line x1="293.0" y1="381.7916666666667" x2="294.6" y2="381.7916666666667" stroke="#000" stroke-width="1.2" />
<line x1="293.0" y1="389.64166666666665" x2="294.6" y2="389.64166666666665" stroke="#000" stroke-width="1.2" />
<line x1="322.9" y1="391.6041666666667" x2="322.9" y2="399.45416666666665" stroke="#000" stroke-width="1.2" />
<line x1="322.09999999999997" y1="391.6041666666667" x2="323.7" y2="391.6041666666667" stroke="#000" stroke-width="1.2" />
<line x1="322.09999999999997" y1="399.45416666666665" x2="323.7" y2="399.45416666666665" stroke="#000" stroke-width="1.2" />
<line x1="361.7" y1="400.7625" x2="361.7" y2="403.37916666666666" stroke="#000" stroke-width="1.2" />
<line x1="360.9" y1="400.7625" x2="362.5" y2="400.7625" stroke="#000" stroke-width="1.2" />
<line x1="360.9" y1="403.37916666666666" x2="362.5" y2="403.37916666666666" stroke="#000" stroke-width="1.2" />
<line x1="274.40000000000003" y1="393.56666666666666" x2="274.40000000000003" y2="401.4166666666667" stroke="#000" stroke-width="1.2" />
<line x1="273.6" y1="393.56666666666666" x2="275.20000000000005" y2="393.56666666666666" stroke="#000" stroke-width="1.2" />
<line x1="273.6" y1="401.4166666666667" x2="275.20000000000005" y2="401.4166666666667" stroke="#000" stroke-width="1.2" />
<line x1="293.8" y1="408.6125" x2="293.8" y2="409.92083333333335" stroke="#000" stroke-width="1.2" />
<line x1="293.0" y1="408.6125" x2="294.6" y2="408.6125" stroke="#000" stroke-width="1.2" />
<line x1="293.0" y1="409.92083333333335" x2="294.6" y2="409.92083333333335" stroke="#000" stroke-width="1.2" />
<line x1="322.9" y1="409.92083333333335" x2="322.9" y2="413.84583333333336" stroke="#000" stroke-width="1.2" />
<line x1="322.09999999999997" y1="409.92083333333335" x2="323.7" y2="409.92083333333335" stroke="#000" stroke-width="1.2" />
<line x1="322.09999999999997" y1="413.84583333333336" x2="323.7" y2="413.84583333333336" stroke="#000" stroke-width="1.2" />
<line x1="395.0" y1="332.9" x2="395.0" y2="415.3" stroke="#000" stroke-width="1.25" />
<line x1="391.8" y1="414.7" x2="395.0" y2="414.7" stroke="#000" stroke-width="1.25" />
<text x="388.9" y="417.4" font-size="8.0" text-anchor="end" font-weight="normal" fill="#262626" stroke="#262626" stroke-width="0.1" >0%</text>
<line x1="391.8" y1="401.48333333333335" x2="395.0" y2="401.48333333333335" stroke="#000" stroke-width="1.25" />
<text x="388.9" y="404.18333333333334" font-size="8.0" text-anchor="end" font-weight="normal" fill="#262626" stroke="#262626" stroke-width="0.1" >20%</text>
<line x1="391.8" y1="388.26666666666665" x2="395.0" y2="388.26666666666665" stroke="#000" stroke-width="1.25" />
<text x="388.9" y="390.96666666666664" font-size="8.0" text-anchor="end" font-weight="normal" fill="#262626" stroke="#262626" stroke-width="0.1" >40%</text>
<line x1="391.8" y1="375.04999999999995" x2="395.0" y2="375.04999999999995" stroke="#000" stroke-width="1.25" />
<text x="388.9" y="377.74999999999994" font-size="8.0" text-anchor="end" font-weight="normal" fill="#262626" stroke="#262626" stroke-width="0.1" >60%</text>
<line x1="391.8" y1="361.8333333333333" x2="395.0" y2="361.8333333333333" stroke="#000" stroke-width="1.25" />
<text x="388.9" y="364.5333333333333" font-size="8.0" text-anchor="end" font-weight="normal" fill="#262626" stroke="#262626" stroke-width="0.1" >80%</text>
<line x1="391.8" y1="348.6166666666667" x2="395.0" y2="348.6166666666667" stroke="#000" stroke-width="1.25" />
<text x="388.9" y="351.31666666666666" font-size="8.0" text-anchor="end" font-weight="normal" fill="#262626" stroke="#262626" stroke-width="0.1" >100%</text>
<line x1="391.8" y1="335.4" x2="395.0" y2="335.4" stroke="#000" stroke-width="1.25" />
<text x="388.9" y="338.09999999999997" font-size="8.0" text-anchor="end" font-weight="normal" fill="#262626" stroke="#262626" stroke-width="0.1" >120%</text>
<line x1="394.4" y1="414.7" x2="510.76000000000005" y2="414.7" stroke="#000" stroke-width="1.25" />
<line x1="394.6" y1="414.7" x2="394.6" y2="417.3" stroke="#000" stroke-width="1.25" />
<text x="394.6" y="428.4" font-size="8.0" text-anchor="middle" font-weight="normal" fill="#262626" stroke="#262626" stroke-width="0.1" >2</text>
<line x1="422.94" y1="414.7" x2="422.94" y2="417.3" stroke="#000" stroke-width="1.25" />
<text x="422.94" y="428.4" font-size="8.0" text-anchor="middle" font-weight="normal" fill="#262626" stroke="#262626" stroke-width="0.1" >4</text>
<line x1="451.28000000000003" y1="414.7" x2="451.28000000000003" y2="417.3" stroke="#000" stroke-width="1.25" />
<text x="451.28000000000003" y="428.4" font-size="8.0" text-anchor="middle" font-weight="normal" fill="#262626" stroke="#262626" stroke-width="0.1" >6</text>
<line x1="479.62" y1="414.7" x2="479.62" y2="417.3" stroke="#000" stroke-width="1.25" />
<text x="479.62" y="428.4" font-size="8.0" text-anchor="middle" font-weight="normal" fill="#262626" stroke="#262626" stroke-width="0.1" >8</text>
<line x1="507.96000000000004" y1="414.7" x2="507.96000000000004" y2="417.3" stroke="#000" stroke-width="1.25" />
<text x="507.96000000000004" y="428.4" font-size="8.0" text-anchor="middle" font-weight="normal" fill="#262626" stroke="#262626" stroke-width="0.1" >10</text>
<text x="453.1" y="329.4" font-size="8.6" text-anchor="middle" font-weight="bold" fill="#111" stroke="#111" stroke-width="0.15" >HBL-1 (ABC)</text>
<polyline points="408.77,348.62 437.11,369.10 465.45,396.86 507.96,408.09" fill="none" stroke="#8e1b3d" stroke-width="1.7" stroke-linejoin="round"/>
<polyline points="408.77,348.62 437.11,373.07 465.45,396.86 507.96,410.74" fill="none" stroke="#2c3659" stroke-width="1.7" stroke-linejoin="round"/>
<line x1="507.96000000000004" y1="406.1091666666667" x2="507.96000000000004" y2="410.07416666666666" stroke="#000" stroke-width="1.2" />
<line x1="507.16" y1="406.1091666666667" x2="508.76000000000005" y2="406.1091666666667" stroke="#000" stroke-width="1.2" />
<line x1="507.16" y1="410.07416666666666" x2="508.76000000000005" y2="410.07416666666666" stroke="#000" stroke-width="1.2" />
<line x1="437.11" y1="363.155" x2="437.11" y2="382.97999999999996" stroke="#000" stroke-width="1.2" />
<line x1="436.31" y1="363.155" x2="437.91" y2="363.155" stroke="#000" stroke-width="1.2" />
<line x1="436.31" y1="382.97999999999996" x2="437.91" y2="382.97999999999996" stroke="#000" stroke-width="1.2" />
<line x1="507.96000000000004" y1="409.4133333333333" x2="507.96000000000004" y2="412.0566666666667" stroke="#000" stroke-width="1.2" />
<line x1="507.16" y1="409.4133333333333" x2="508.76000000000005" y2="409.4133333333333" stroke="#000" stroke-width="1.2" />
<line x1="507.16" y1="412.0566666666667" x2="508.76000000000005" y2="412.0566666666667" stroke="#000" stroke-width="1.2" />
<text x="254.8" y="440.0" font-size="10.9" text-anchor="start" font-weight="normal" fill="#262626" stroke="#262626" stroke-width="0.2" textLength="99.7" lengthAdjust="spacingAndGlyphs" >Days after electroporation</text>
<line x1="363" y1="437.5" x2="508" y2="437.5" stroke="#111" stroke-width="1.3" />
<path d="M503.5,433.6 L512,437.5 L503.5,441.4 L505.5,437.5 Z" fill="#111"/>
<line x1="328" y1="451.7" x2="341" y2="451.7" stroke="#8e1b3d" stroke-width="2.1" />
<text x="344.2" y="454.5" font-size="8.0" text-anchor="start" font-weight="normal" fill="#262626" stroke="#262626" stroke-width="0.25" textLength="71.2" lengthAdjust="spacingAndGlyphs" >PTEN KO + BCR KO</text>
<line x1="328" y1="464" x2="341" y2="464" stroke="#2c3659" stroke-width="2.1" />
<text x="344.2" y="466.8" font-size="8.0" text-anchor="start" font-weight="normal" fill="#262626" stroke="#262626" stroke-width="0.25" textLength="49.1" lengthAdjust="spacingAndGlyphs" >WT + BCR KO</text>
</g>
<rect x="0" y="0" width="520" height="1" fill="#000"/>
<rect x="0" y="0" width="1.3" height="474" fill="#000"/>
<rect x="518.6" y="0" width="1.4" height="474" fill="#000"/>
<rect x="0" y="472.2" width="520" height="1.8" fill="#000"/>
</svg></body></html>
